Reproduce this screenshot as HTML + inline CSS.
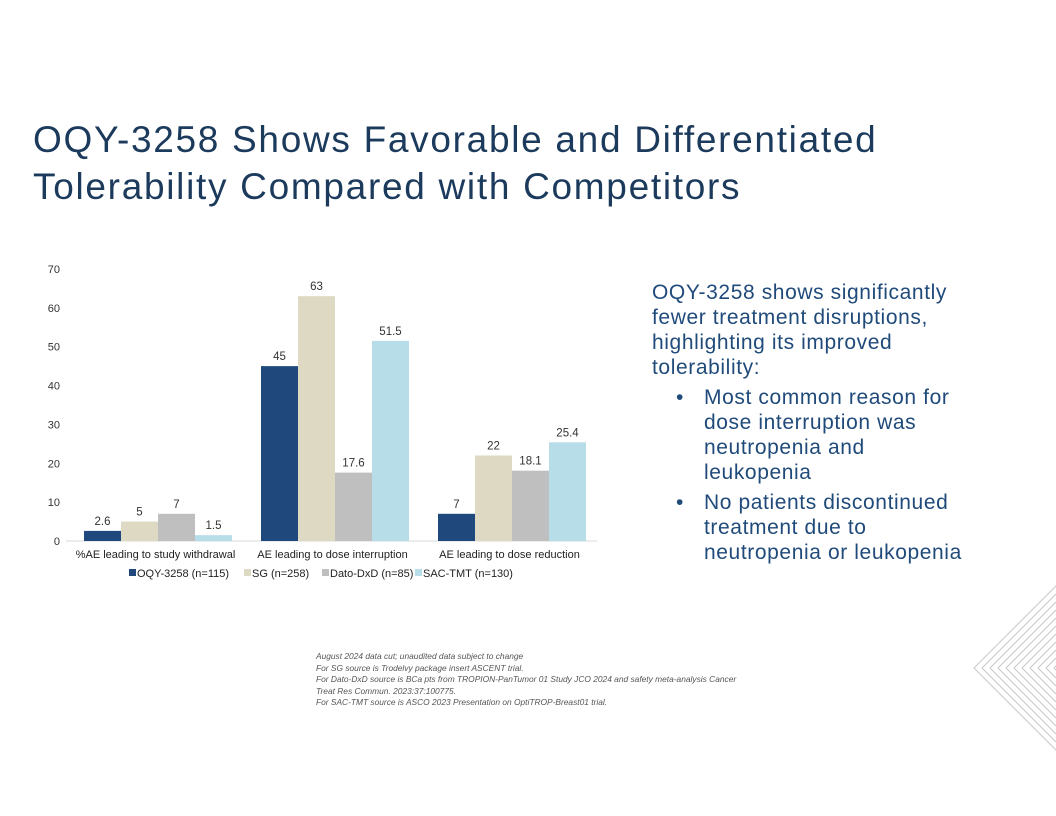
<!DOCTYPE html>
<html><head><meta charset="utf-8"><style>
body{margin:0;width:1056px;height:816px;background:#fff;position:relative;overflow:hidden;font-family:"Liberation Sans",sans-serif}
.title{position:absolute;left:33px;top:116px;font-size:37px;line-height:47px;color:#1b3a5c;letter-spacing:1.7px}
.side{position:absolute;left:652px;top:280px;width:404px;font-size:21px;line-height:25px;color:#1f4a7a;letter-spacing:0.6px;white-space:nowrap}
.side ul{margin:5px 0 0 0;padding-left:52px}
.side li{list-style:none;position:relative;margin-bottom:5px}
.side li:before{content:"•";position:absolute;left:-28px}
.foot{position:absolute;left:316px;top:651px;font-size:8.4px;line-height:11.5px;color:#555;font-style:italic}
</style></head><body>
<div class="title">OQY-3258 Shows Favorable and Differentiated<br>Tolerability Compared with Competitors</div>
<svg id="chart" width="1056" height="816" style="position:absolute;left:0;top:0"></svg>
<div class="side">OQY-3258 shows significantly<br>fewer treatment disruptions,<br>highlighting its improved<br>tolerability:
<ul><li>Most common reason for<br>dose interruption was<br>neutropenia and<br>leukopenia</li>
<li>No patients discontinued<br>treatment due to<br>neutropenia or leukopenia</li></ul></div>
<div class="foot">August 2024 data cut; unaudited data subject to change<br>For SG source is Trodelvy package insert ASCENT trial.<br>For Dato-DxD source is BCa pts from TROPION-PanTumor 01 Study JCO 2024 and safety meta-analysis Cancer<br>Treat Res Commun. 2023:37:100775.<br>For SAC-TMT source is ASCO 2023 Presentation on OptiTROP-Breast01 trial.</div>
<script>
const categories=["%AE leading to study withdrawal","AE leading to dose interruption","AE leading to dose reduction"];
const seriesNames=["OQY-3258 (n=115)","SG (n=258)","Dato-DxD (n=85)","SAC-TMT (n=130)"];
const oqy=[2.6,45,7];
const sg=[5,63,22];
const dato=[7,17.6,18.1];
const sac=[1.5,51.5,25.4];
const yTicks=[0,10,20,30,40,50,60,70];
const series=[oqy,sg,dato,sac];
const colors=["#1f497d","#ddd9c3","#bfbfbf","#b7dde8"];
const svg=document.getElementById('chart');const NS="http://www.w3.org/2000/svg";
function el(t,a,txt){const e=document.createElementNS(NS,t);for(const k in a)e.setAttribute(k,a[k]);if(txt!==undefined)e.textContent=txt;svg.appendChild(e);return e;}
const y0=541,pxPer=3.886,x0=66,gw=177,bw=37;
const y=v=>y0-v*pxPer;
yTicks.forEach(t=>{const e=el('text',{x:60,y:y(t)+4,'text-anchor':'end','font-size':11,fill:'#333'},t);
});
const ax=el('line',{x1:x0,x2:x0+3*gw,y1:y0,y2:y0,stroke:'#d9d9d9'});

categories.forEach((c,i)=>{const gx=x0+i*gw+18;
series.forEach((s,j)=>{const bx=gx+j*bw;
const r=el('rect',{x:bx,y:y(s[i]),width:bw,height:s[i]*pxPer,fill:colors[j]});

const l=el('text',{x:bx+bw/2,y:y(s[i])-6,'text-anchor':'middle','font-size':11.5,fill:'#333'},s[i]);
});
const t=el('text',{x:x0+i*gw+gw/2+1,y:558,'text-anchor':'middle','font-size':11,fill:'#222'},c);
});
let lx=136;const lw=[115,78,93,100];
seriesNames.forEach((n,j)=>{const r=el('rect',{x:lx-7,y:569,width:7,height:7,fill:colors[j]});

const t=el('text',{x:lx+1,y:577,'font-size':11,fill:'#222'},n);
lx+=lw[j];});
for(let k=0;k<11;k++){const ax2=974+k*8;
const p=el('polyline',{points:`${ax2+98},570 ${ax2},668 ${ax2+98},766`,fill:'none',stroke:'#c8c8c8','stroke-width':1});
}
</script>
</body></html>
